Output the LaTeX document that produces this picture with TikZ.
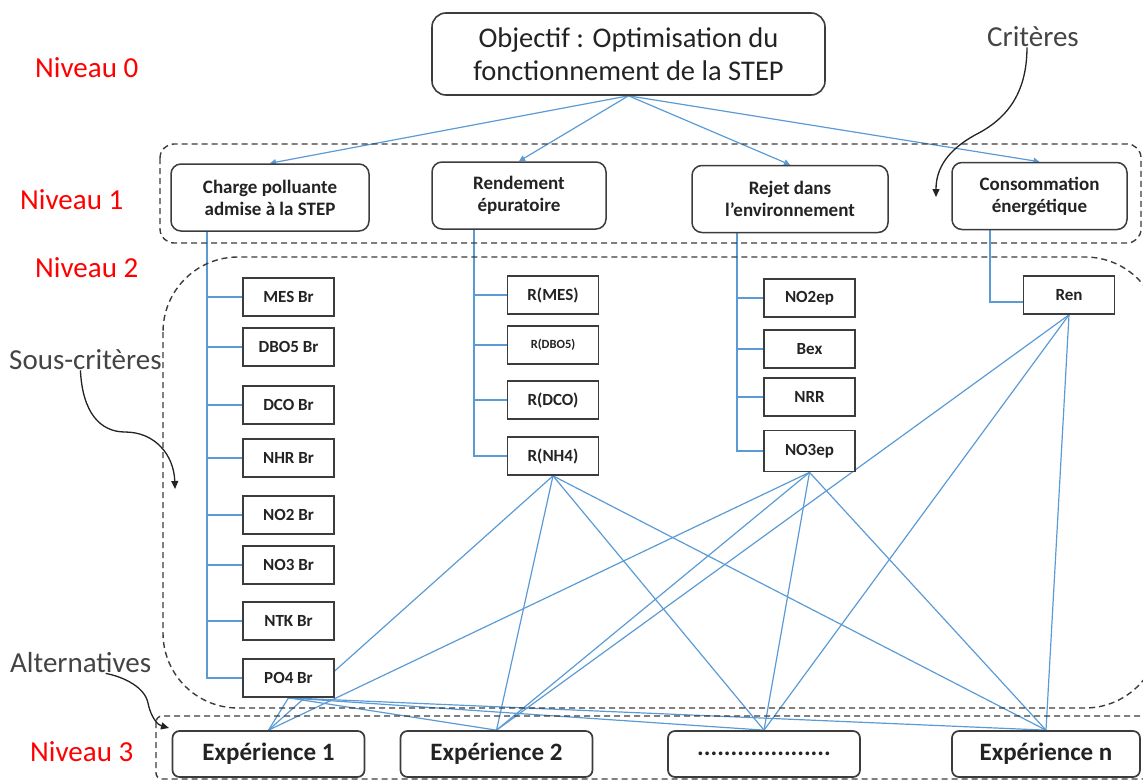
\documentclass[tikz,border=0pt]{standalone}
\usepackage{fontspec}
\setmainfont{Carlito}
\usetikzlibrary{arrows.meta,calc}
\definecolor{linkblue}{RGB}{91,155,213}
\definecolor{frame}{RGB}{60,60,60}
\definecolor{ink}{RGB}{35,35,35}
\pgfdeclarelayer{bg}
\pgfsetlayers{bg,main}
\tikzset{
  link/.style={draw=linkblue, line width=1.2pt},
  linkarrow/.style={link, -{Triangle[width=6pt,length=6pt]}},
  goalbox/.style={draw=frame, line width=1.6pt, rounded corners=14pt, fill=white, align=center, text=ink,
    font=\fontsize{28.5}{33}\selectfont, minimum width=393pt, minimum height=82pt, inner sep=0pt},
  critbox/.style={draw=frame, line width=1.5pt, rounded corners=10pt, fill=white, align=center, text=ink,
    font=\fontsize{19}{22}\selectfont\bfseries, minimum height=67pt, inner sep=0pt},
  subbox/.style={draw=frame, line width=1.7pt, fill=white, minimum width=91pt, minimum height=38pt,
    inner sep=0pt, text=ink, font=\fontsize{17}{18}\selectfont\bfseries},
  expbox/.style={draw=frame, line width=1.7pt, rounded corners=7pt, fill=white, minimum width=192pt,
    minimum height=46pt, inner sep=0pt, text=ink, font=\fontsize{25}{26}\selectfont\bfseries},
  level/.style={text=red, font=\fontsize{29}{30}\selectfont, anchor=west, inner sep=0pt},
  tag/.style={text=ink!85, font=\fontsize{29}{30}\selectfont, anchor=west, inner sep=0pt},
  group/.style={draw=frame, line width=1.4pt, dash pattern=on 6pt off 4pt},
  pointer/.style={draw=ink, line width=1.3pt, -{Triangle[width=7pt,length=8pt]}},
}
\begin{document}
\begin{tikzpicture}[x=1pt,y=-1pt]
\useasboundingbox (0,0) rectangle (1143,781);

% level labels
\node[level] (n0) at (35,68) {Niveau 0};
\node[level] (n1) at (20,200) {Niveau 1};
\node[level] (n2) at (35,268) {Niveau 2};
\node[level] (n3) at (30,752) {Niveau 3};

% annotations
\node[tag] (crit) at (987,37) {Critères};
\node[tag] (sous) at (9,360) {Sous-critères};
\node[tag] (alt) at (10,663) {Alternatives};

% group frames
\draw[group, rounded corners=14pt] (160,144) rectangle (1141,243);
\draw[group, rounded corners=75pt] (163,257) rectangle (1160,708);
\draw[group, rounded corners=6pt] (156,716) rectangle (1152,779);

% goal
\node[goalbox] (obj) at (628.5,54) {Objectif : Optimisation du\\fonctionnement de la STEP};

% criteria
\node[critbox, minimum width=198pt] (c1) at (270,197.5) {Charge polluante\\admise à la STEP};
\node[critbox, minimum width=174pt] (c2) at (519,195.5) {Rendement\\épuratoire};
\node[critbox, minimum width=196pt] (c3) at (790,199) {Rejet dans\\l’environnement};
\node[critbox, minimum width=175pt] (c4) at (1039.5,196) {Consommation\\énergétique};

% sub-criteria, first column
\node[subbox] (mes)  at (288.5,297) {MES Br};
\node[subbox] (dbo)  at (288.5,347) {DBO5 Br};
\node[subbox] (dco)  at (288.5,405) {DCO Br};
\node[subbox] (nhr)  at (288.5,458) {NHR Br};
\node[subbox] (no2)  at (288.5,515) {NO2 Br};
\node[subbox] (no3)  at (288.5,565) {NO3 Br};
\node[subbox] (ntk)  at (288.5,621) {NTK Br};
\node[subbox] (po4)  at (288.5,678) {PO4 Br};
% second column
\node[subbox] (rmes) at (553,295) {R(MES)};
\node[subbox, font=\fontsize{12.5}{14}\selectfont\bfseries] (rdbo) at (553,345) {R(DBO5)};
\node[subbox] (rdco) at (553,400) {R(DCO)};
\node[subbox] (rnh)  at (553,456) {R(NH4)};
% third column
\node[subbox] (no2ep) at (809.5,298) {NO2ep};
\node[subbox] (bex)   at (809.5,349) {Bex};
\node[subbox] (nrr)   at (809.5,397) {NRR};
\node[subbox, minimum height=41pt] (no3ep) at (809.5,451) {NO3ep};
% fourth column
\node[subbox] (ren) at (1069,295) {Ren};

% alternatives
\node[expbox] (e1) at (268.5,754) {Expérience 1};
\node[expbox] (e2) at (496.5,754) {Expérience 2};
\node[expbox] (e3) at (764,754) {....................};
\node[expbox, minimum width=188pt] (en) at (1046,754) {Expérience n};

% connectors
\coordinate (t1) at (207,0);
\coordinate (t2) at (474,0);
\coordinate (t3) at (737,0);
\coordinate (t4) at (990,0);
\begin{pgfonlayer}{bg}
  \foreach \c in {c1,c2,c3,c4} \draw[linkarrow] (obj.south) -- (\c.north);
  \draw[link] (c1.south -| t1) |- (po4.west);
  \foreach \s in {mes,dbo,dco,nhr,no2,no3,ntk} \draw[link] (t1 |- \s.west) -- (\s.west);
  \draw[link] (c2.south -| t2) |- (rnh.west);
  \foreach \s in {rmes,rdbo,rdco} \draw[link] (t2 |- \s.west) -- (\s.west);
  \draw[link] (c3.south -| t3) |- (no3ep.west);
  \foreach \s in {no2ep,bex,nrr} \draw[link] (t3 |- \s.west) -- (\s.west);
  \draw[link] (c4.south -| t4) |- ([yshift=-7pt]ren.west);
  \foreach \s in {po4,rnh,no3ep} \foreach \e in {e1,e2,e3,en} \draw[link] (\s.south) -- (\e.north);
  \foreach \e in {e2,e3,en} \draw[link] (ren.south) -- (\e.north);
\end{pgfonlayer}

% annotation pointers
\coordinate (critTip) at (936,197);
\coordinate (sousTip) at (175,489);
\coordinate (altTip) at (169,728);
\draw[pointer] ([xshift=-6pt]crit.south) .. controls +(0,48) and (1005,120) .. (975,135)
  .. controls (948,150) and (936,168) .. (critTip);
\draw[pointer] ([xshift=-5pt]sous.south) .. controls +(2,42) and (100,432) .. (125,432)
  .. controls (155,432) and (174,455) .. (sousTip);
\draw[pointer] ([xshift=25pt]alt.south) .. controls +(20,4) and (145,688) .. (148,703)
  .. controls (151,718) and (158,725) .. (altTip);
\end{tikzpicture}
\end{document}
